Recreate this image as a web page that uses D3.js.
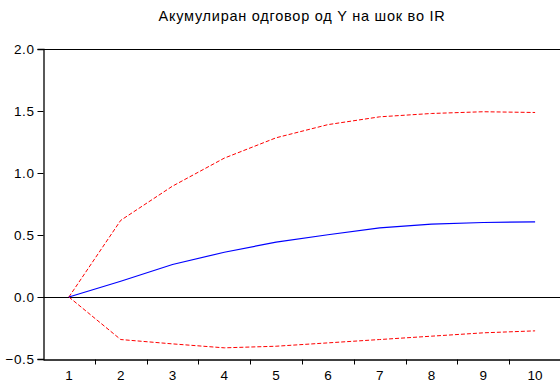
<!DOCTYPE html>
<html>
<head>
<meta charset="utf-8">
<script src="https://cdn.jsdelivr.net/npm/d3@7"></script>
<style>
  html, body { margin: 0; padding: 0; background: #fff; }
  svg { display: block; }
  text { font-family: "Liberation Sans", Arial, sans-serif; fill: #000; }
</style>
</head>
<body>
<svg id="chart" width="560" height="388"></svg>
<script>
// Accumulated response of Y to an IR shock, periods 1..10
const periods = [1, 2, 3, 4, 5, 6, 7, 8, 9, 10];
const response = [0.0, 0.127, 0.262, 0.361, 0.442, 0.502, 0.557, 0.587, 0.601, 0.606];
const upperBand = [0.0, 0.618, 0.894, 1.12, 1.284, 1.39, 1.453, 1.48, 1.494, 1.488];
const lowerBand = [0.0, -0.343, -0.378, -0.41, -0.397, -0.37, -0.343, -0.316, -0.289, -0.273];
const yTicks = [-0.5, 0.0, 0.5, 1.0, 1.5, 2.0];
const title = "Акумулиран одговор од Y на шок во IR";

const svg = d3.select("#chart");
const plotLeft = 43, plotRight = 561, plotTop = 49, plotBottom = 359;

const x = d3.scaleBand().domain(periods).range([plotLeft, plotRight]);
const xc = d => x(d) + x.bandwidth() / 2;
const y = d3.scaleLinear().domain([-0.5, 2.0]).range([plotBottom, plotTop]);

// Title
svg.append("text")
  .attr("x", (plotLeft + plotRight) / 2)
  .attr("y", 21)
  .attr("text-anchor", "middle")
  .style("font-size", "14.5px")
  .style("letter-spacing", "0.75px")
  .text(title);

// Top frame line
svg.append("line")
  .attr("x1", plotLeft).attr("x2", plotRight)
  .attr("y1", plotTop + 0.5).attr("y2", plotTop + 0.5)
  .attr("stroke", "#000").attr("stroke-width", 1);

// Zero line
svg.append("line")
  .attr("x1", plotLeft).attr("x2", plotRight)
  .attr("y1", Math.round(y(0)) + 0.5).attr("y2", Math.round(y(0)) + 0.5)
  .attr("stroke", "#000").attr("stroke-width", 1);

// Y axis
const yAxis = d3.axisLeft(y)
  .tickValues(yTicks)
  .tickFormat(d3.format(".1f"))
  .tickSize(6)
  .tickPadding(3);
const gy = svg.append("g")
  .attr("transform", `translate(${plotLeft + 0.5},0)`)
  .call(yAxis);
gy.select(".domain").attr("stroke-width", 1.3);
gy.selectAll("text")
  .style("font-size", "13.5px")
  .style("letter-spacing", "0.6px")
  .style("font-family", '"Liberation Sans", Arial, sans-serif');

// X axis: ticks at band edges, labels at band centres
const xAxis = d3.axisBottom(x).tickSize(0).tickPadding(11);
const gx = svg.append("g")
  .attr("transform", `translate(0,${plotBottom + 0.5})`)
  .call(xAxis);
gx.select(".domain").attr("stroke-width", 1.3);
gx.selectAll("text").style("font-size", "13.5px").style("font-family", '"Liberation Sans", Arial, sans-serif');
gx.selectAll(".edge")
  .data(periods.slice(1))
  .enter().append("line")
  .attr("class", "edge")
  .attr("x1", d => Math.round(x(d)) + 0.5).attr("x2", d => Math.round(x(d)) + 0.5)
  .attr("y1", 0).attr("y2", 5)
  .attr("stroke", "#000");

// Series lines
const line = d3.line().x((d, i) => xc(periods[i])).y(d => y(d));

svg.append("path").datum(upperBand)
  .attr("d", line).attr("fill", "none")
  .attr("stroke", "#ff0000").attr("stroke-width", 1)
  .attr("stroke-dasharray", "4,2");

svg.append("path").datum(lowerBand)
  .attr("d", line).attr("fill", "none")
  .attr("stroke", "#ff0000").attr("stroke-width", 1)
  .attr("stroke-dasharray", "4,2");

svg.append("path").datum(response)
  .attr("d", line).attr("fill", "none")
  .attr("stroke", "#0000ff").attr("stroke-width", 1.2);
</script>
</body>
</html>
